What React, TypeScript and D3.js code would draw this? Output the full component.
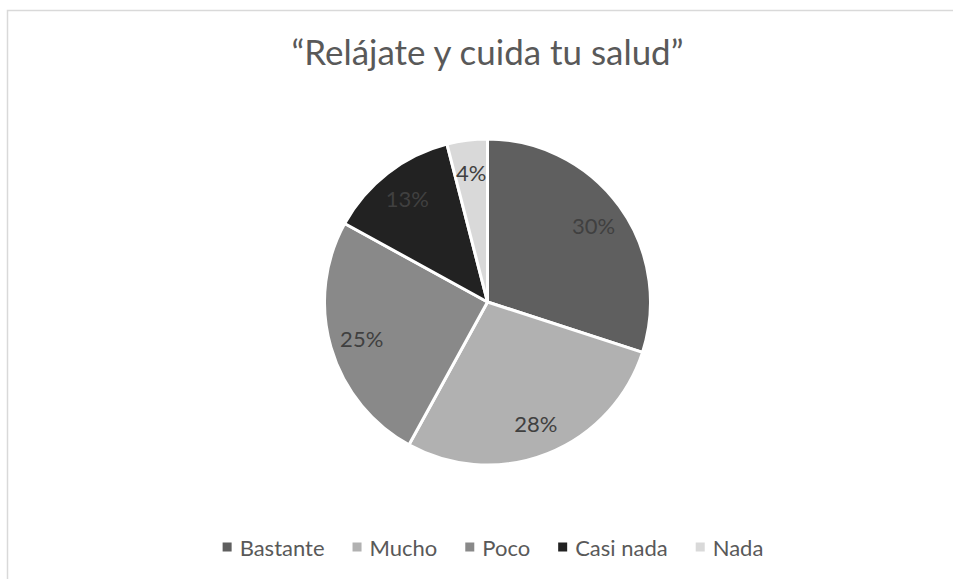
import React, { useEffect, useRef } from "react";
import * as d3 from "d3";

const width = 953;
const height = 579;

const title = "\u201CRelájate y cuida tu salud\u201D";
const categories = ["Bastante", "Mucho", "Poco", "Casi nada", "Nada"];
const values = [30, 28, 25, 13, 4];
const colors = ["#5f5f5f", "#b1b1b1", "#898989", "#222222", "#d9d9d9"];

const cx = 487.5;
const cy = 302;
const radius = 163;
const labelRadius = 131;
const titleWidth = 392;
const font = "Lato, 'Open Sans', sans-serif";

const App = () => {
  const ref = useRef<SVGSVGElement>(null);

  useEffect(() => {
    const svg = d3.select(ref.current);
    svg.selectAll("*").remove();

    // chart area border (cut off on the right and bottom)
    svg
      .append("rect")
      .attr("x", 7.5)
      .attr("y", 10.5)
      .attr("width", width + 20)
      .attr("height", height + 20)
      .attr("fill", "white")
      .attr("stroke", "#d9d9d9")
      .attr("stroke-width", 1.5);

    const titleText = svg
      .append("text")
      .attr("x", cx)
      .attr("y", 65)
      .attr("text-anchor", "middle")
      .attr("font-family", font)
      .attr("font-size", 31)
      .attr("fill", "#595959")
      .text(title);
    // fit title to the width it has in the original
    const tw = (titleText.node() as SVGTextElement).getComputedTextLength();
    if (tw > 0) titleText.attr("font-size", (31 * titleWidth) / tw);

    const data = categories.map((c, i) => ({ name: c, value: values[i], color: colors[i] }));
    const pie = d3
      .pie<any>()
      .value((d) => d.value)
      .sort(null);
    const arcs = pie(data);
    const arc = d3.arc<any>().innerRadius(0).outerRadius(radius);
    const labelArc = d3.arc<any>().innerRadius(labelRadius).outerRadius(labelRadius);

    const g = svg.append("g").attr("transform", `translate(${cx},${cy})`);
    g.selectAll("path")
      .data(arcs)
      .join("path")
      .attr("d", arc)
      .attr("fill", (d) => d.data.color)
      .attr("stroke", "white")
      .attr("stroke-width", 3)
      .attr("stroke-linejoin", "round");

    g.selectAll("text")
      .data(arcs)
      .join("text")
      .attr("transform", (d) => `translate(${labelArc.centroid(d)})`)
      .attr("text-anchor", "middle")
      .attr("dominant-baseline", "central")
      .attr("font-family", font)
      .attr("font-size", 22)
      .attr("fill", "#404040")
      .text((d) => `${d.data.value}%`);

    // legend, laid out from measured text widths
    const legend = svg.append("g");
    const box = 9;
    const gapText = 8;
    const gapItem = 28;
    const items = legend
      .selectAll("g")
      .data(data)
      .join("g");
    items
      .append("rect")
      .attr("width", box)
      .attr("height", box)
      .attr("y", -box / 2)
      .attr("fill", (d) => d.color);
    items
      .append("text")
      .attr("x", box + gapText)
      .attr("dominant-baseline", "central")
      .attr("font-family", font)
      .attr("font-size", 22)
      .attr("fill", "#595959")
      .text((d) => d.name);

    let x = 0;
    const offsets: number[] = [];
    items.each(function () {
      offsets.push(x);
      const t = d3.select(this).select("text").node() as SVGTextElement;
      x += box + gapText + t.getComputedTextLength() + gapItem;
    });
    const total = x - gapItem;
    const start = 493 - total / 2;
    items.attr("transform", (_, i) => `translate(${start + offsets[i]},547)`);
  }, []);

  return (
    <svg
      ref={ref}
      width={width}
      height={height}
      style={{ position: "absolute", left: 0, top: 0, background: "white" }}
    />
  );
};

export default App;
